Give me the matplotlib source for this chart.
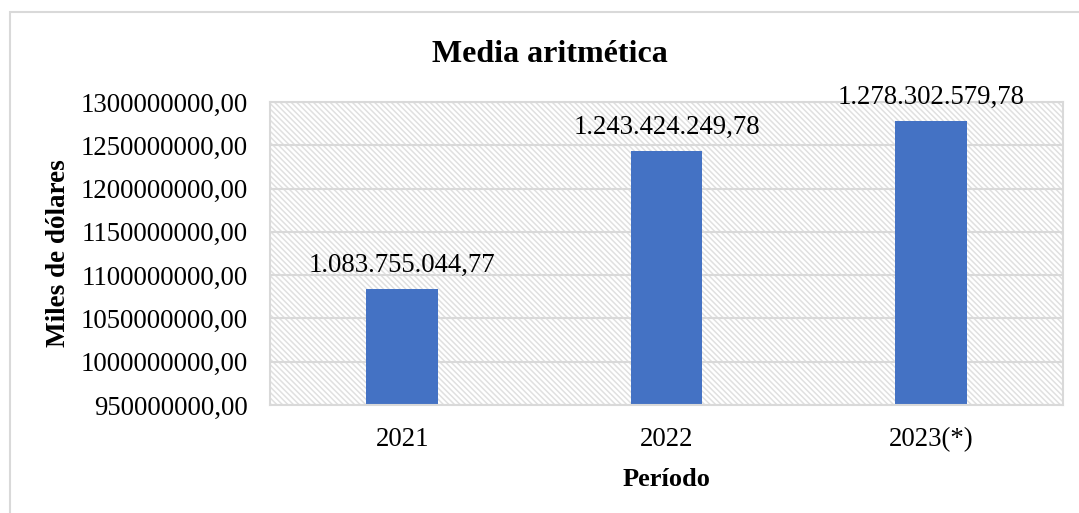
import matplotlib.pyplot as plt
from matplotlib.patches import Rectangle
from matplotlib.ticker import FuncFormatter, MultipleLocator

periods = ['2021', '2022', '2023(*)']
means = [1083755044.77, 1243424249.78, 1278302579.78]
value_labels = ['1.083.755.044,77', '1.243.424.249,78', '1.278.302.579,78']

BAR_BLUE = '#4472C4'
GRID_GRAY = '#d9d9d9'

plt.rcParams['font.family'] = ['Liberation Serif', 'DejaVu Serif']
plt.rcParams['hatch.color'] = '#e0e0e0'
plt.rcParams['hatch.linewidth'] = 1.1

fig = plt.figure(figsize=(10.79, 5.13), dpi=100)
ax = fig.add_axes([270 / 1079, 1 - 405 / 513, 793 / 1079, 303 / 513])

# outer chart frame (only left/top edges show)
fig.patches.append(Rectangle((10 / 1079, -0.1), 1.2, 0.1 + (513 - 12) / 513,
                             transform=fig.transFigure, fill=False,
                             edgecolor='#d9d9d9', lw=1.5))

ax.set_ylim(950000000, 1300000000)
ax.set_xlim(-0.5, 2.5)

# hatched plot area background
ax.add_patch(Rectangle((0, 0), 1, 1, transform=ax.transAxes, facecolor='white',
                       hatch='\\\\\\\\\\\\', edgecolor='#e0e0e0', lw=0, zorder=0))

ax.yaxis.set_major_locator(MultipleLocator(50000000))
ax.grid(axis='y', color=GRID_GRAY, lw=1.5, zorder=1)
ax.set_axisbelow(True)

bars = ax.bar(range(len(periods)), means, width=0.27, color=BAR_BLUE, zorder=2)
for i, (v, lab) in enumerate(zip(means, value_labels)):
    ax.annotate(lab, (i, v), xytext=(0, 8), textcoords='offset points',
                ha='center', va='bottom', fontsize=19.3)

ax.set_xticks(range(len(periods)))
ax.set_xticklabels(periods)
ax.yaxis.set_major_formatter(FuncFormatter(lambda y, p: f'{int(y)},00'))
ax.tick_params(axis='both', length=0, labelsize=19.3)
ax.tick_params(axis='x', pad=16)
ax.tick_params(axis='y', pad=16)

for s in ax.spines.values():
    s.set_color(GRID_GRAY)
    s.set_linewidth(1.5)

ax.set_xlabel('Período', fontsize=19, fontweight='bold', labelpad=11)
ax.set_ylabel('Miles de dólares', fontsize=19.5, fontweight='bold', labelpad=7)
fig.text(550 / 1079, 1 - 54 / 513, 'Media aritmética', ha='center', va='center',
         fontsize=23, fontweight='bold')

fig.savefig('out.png', dpi=100)
